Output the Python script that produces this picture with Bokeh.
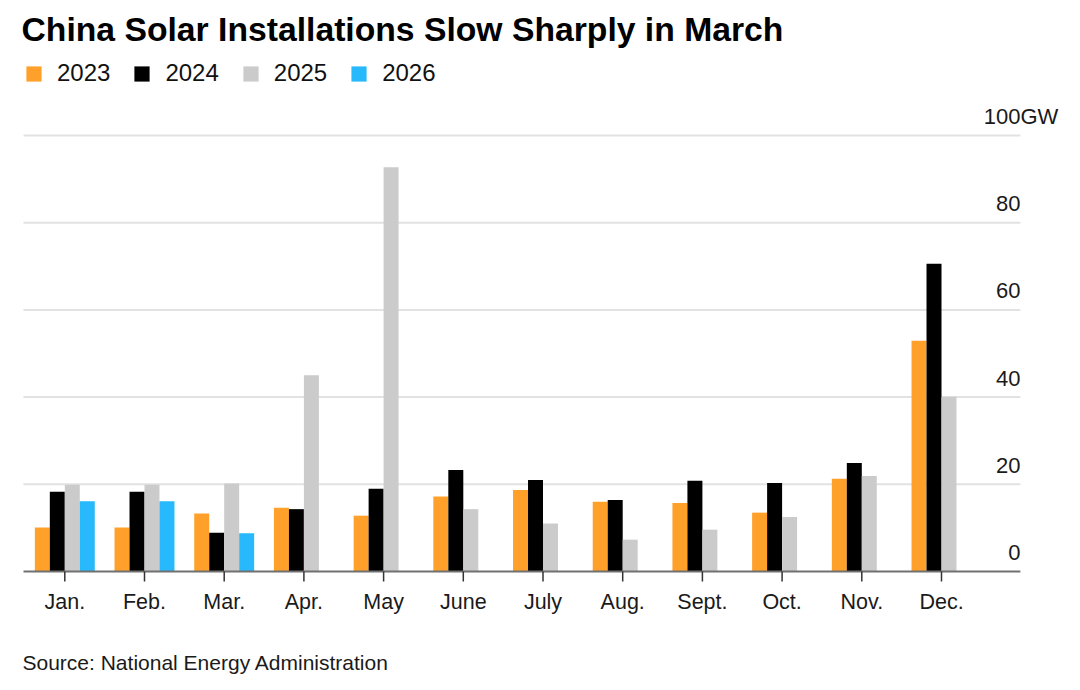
from bokeh.plotting import figure
from bokeh.models import ColumnDataSource, Range1d, Legend, LegendItem, Label
from bokeh.transform import dodge
from bokeh.core.properties import value
from bokeh.embed import file_html
from bokeh.resources import INLINE

# ---------------- data ----------------
months = ["Jan.", "Feb.", "Mar.", "Apr.", "May", "June", "July", "Aug.",
          "Sept.", "Oct.", "Nov.", "Dec."]
gw_2023 = [10.1, 10.1, 13.3, 14.6, 12.8, 17.2, 18.7, 16.0, 15.7, 13.5, 21.3, 52.9]
gw_2024 = [18.3, 18.3, 8.9, 14.3, 19.0, 23.3, 21.0, 16.4, 20.8, 20.3, 24.9, 70.6]
gw_2025 = [19.9, 19.9, 20.2, 45.0, 92.7, 14.3, 11.0, 7.3, 9.6, 12.5, 21.9, 40.1]
gw_2026 = [16.1, 16.1, 8.8]
years = ["2023", "2024", "2025", "2026"]
colors = ["#ffa02a", "#000000", "#cbcbcb", "#27b9fb"]
y_ticks = [0, 20, 40, 60, 80, 100]
y_tick_labels = ["0", "20", "40", "60", "80", "100"]
unit_label = "GW"
title_text = "China Solar Installations Slow Sharply in March"
source_text = "Source: National Energy Administration"

FONT = "Liberation Sans"

# ---------------- layout ----------------
W, H = 1064, 674
PX_PER_MONTH = 79.7
FIRST_MONTH_PX = 64.3
BASE_PX = 571          # pixel row of the zero line
PX_PER_GW = 4.36
TICK_PX = 10

x_start = -FIRST_MONTH_PX / PX_PER_MONTH
x_end = (W - FIRST_MONTH_PX) / PX_PER_MONTH
y_start = -(H - BASE_PX) / PX_PER_GW
y_end = BASE_PX / PX_PER_GW
GRID_X0 = -0.518
GRID_X1 = 11.99
BAR_W = 0.188

p = figure(width=W, height=H, x_range=Range1d(x_start, x_end),
           y_range=Range1d(y_start, y_end),
           output_backend="svg", toolbar_location=None,
           x_axis_location=None, y_axis_location=None,
           min_border=0)
p.grid.visible = False
p.outline_line_color = None
p.background_fill_color = "white"
p.border_fill_color = "white"

# gridlines
p.segment(x0=GRID_X0, x1=GRID_X1, y0=y_ticks[1:], y1=y_ticks[1:],
          line_color="#e2e2e2", line_width=2)

# bars
idx = list(range(len(months)))
src = ColumnDataSource(dict(x=idx, y23=gw_2023, y24=gw_2024, y25=gw_2025))
src26 = ColumnDataSource(dict(x=idx[:len(gw_2026)], y26=gw_2026))
r23 = p.vbar(x=dodge("x", -1.5 * BAR_W), top="y23", width=BAR_W, source=src,
             fill_color=colors[0], line_color=None)
r24 = p.vbar(x=dodge("x", -0.5 * BAR_W), top="y24", width=BAR_W, source=src,
             fill_color=colors[1], line_color=None)
r25 = p.vbar(x=dodge("x", 0.5 * BAR_W), top="y25", width=BAR_W, source=src,
             fill_color=colors[2], line_color=None)
r26 = p.vbar(x=dodge("x", 1.5 * BAR_W), top="y26", width=BAR_W, source=src26,
             fill_color=colors[3], line_color=None)

# x axis: baseline, ticks, month labels
p.segment(x0=GRID_X0, x1=GRID_X1, y0=0, y1=0, line_color="#707070", line_width=2)
p.segment(x0=idx, x1=idx, y0=[0] * len(idx), y1=[-TICK_PX / PX_PER_GW] * len(idx),
          line_color="#333333", line_width=1.5)
p.text(x=idx, y=[0] * len(idx), text=months, text_align="center",
       text_baseline="alphabetic", y_offset=30,
       text_font=value(FONT), text_font_size="21.5px", text_color="#1a1a1a")

# y tick labels (drawn above gridlines, right aligned)
p.text(x=[GRID_X1] * len(y_ticks), y=y_ticks, text=y_tick_labels,
       text_align="right", text_baseline="alphabetic", y_offset=-19,
       text_font=value(FONT), text_font_size="22px", text_color="#1a1a1a")
p.text(x=[GRID_X1], y=[y_ticks[-1]], text=[unit_label],
       text_align="left", text_baseline="alphabetic", y_offset=-19,
       text_font=value(FONT), text_font_size="22px", text_color="#1a1a1a")

# legend
legend = Legend(items=[LegendItem(label=y, renderers=[r]) for y, r in
                       zip(years, [r23, r24, r25, r26])],
                orientation="horizontal", location=(24, H - BASE_PX + 484),
                glyph_width=19, glyph_height=19, label_standoff=14, spacing=22,
                padding=0, margin=0, border_line_color=None, background_fill_alpha=0,
                label_text_font=FONT, label_text_font_size="24px",
                label_text_color="#111111")
p.add_layout(legend)

# title
p.add_layout(Label(x=21, y=H - 28.5, x_units="screen", y_units="screen",
                   text=title_text, text_font=FONT, text_font_size="33.7px",
                   text_font_style="bold", text_color="#000000",
                   text_baseline="alphabetic"))

# source
p.add_layout(Label(x=22, y=H - 662, x_units="screen", y_units="screen",
                   text=source_text, text_font=FONT, text_font_size="21px",
                   text_color="#1a1a1a", text_baseline="alphabetic"))

open("out.html", "w").write(file_html(p, INLINE))
